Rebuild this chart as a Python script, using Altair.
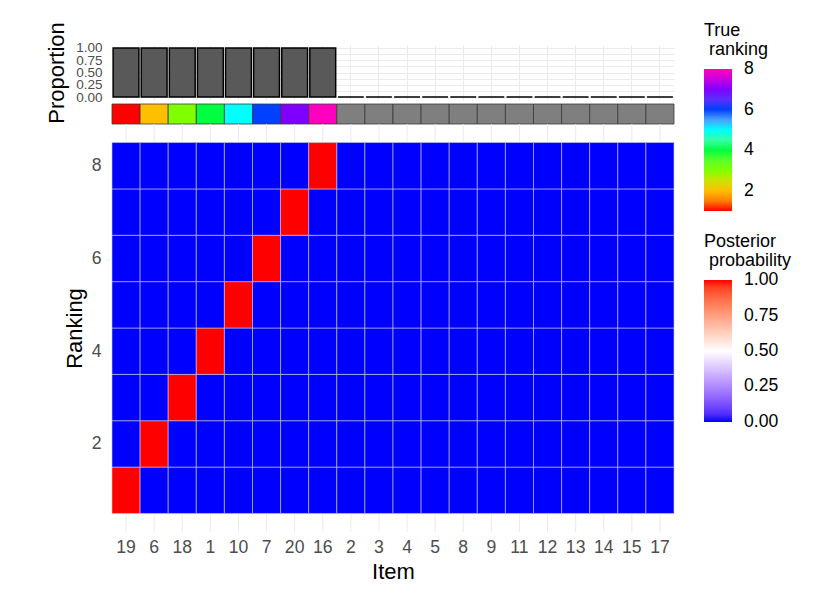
import altair as alt
import pandas as pd

# ---- data ----
items = ["19", "6", "18", "1", "10", "7", "20", "16", "2", "3",
         "4", "5", "8", "9", "11", "12", "13", "14", "15", "17"]
proportion = [1, 1, 1, 1, 1, 1, 1, 1, 0, 0, 0, 0, 0, 0, 0, 0, 0, 0, 0, 0]
true_ranking = [1, 2, 3, 4, 5, 6, 7, 8, None, None, None, None, None, None,
                None, None, None, None, None, None]
rankings = [1, 2, 3, 4, 5, 6, 7, 8]
# posterior probability: one row per ranking (1..8), columns follow `items`
posterior = [
    [1, 0, 0, 0, 0, 0, 0, 0, 0, 0, 0, 0, 0, 0, 0, 0, 0, 0, 0, 0],
    [0, 1, 0, 0, 0, 0, 0, 0, 0, 0, 0, 0, 0, 0, 0, 0, 0, 0, 0, 0],
    [0, 0, 1, 0, 0, 0, 0, 0, 0, 0, 0, 0, 0, 0, 0, 0, 0, 0, 0, 0],
    [0, 0, 0, 1, 0, 0, 0, 0, 0, 0, 0, 0, 0, 0, 0, 0, 0, 0, 0, 0],
    [0, 0, 0, 0, 1, 0, 0, 0, 0, 0, 0, 0, 0, 0, 0, 0, 0, 0, 0, 0],
    [0, 0, 0, 0, 0, 1, 0, 0, 0, 0, 0, 0, 0, 0, 0, 0, 0, 0, 0, 0],
    [0, 0, 0, 0, 0, 0, 1, 0, 0, 0, 0, 0, 0, 0, 0, 0, 0, 0, 0, 0],
    [0, 0, 0, 0, 0, 0, 0, 1, 0, 0, 0, 0, 0, 0, 0, 0, 0, 0, 0, 0],
]
rank_colors = ["#FF0000", "#FFBF00", "#80FF00", "#00FF40",
               "#00FFFF", "#0040FF", "#8000FF", "#FF00BF"]
prob_colors = ["#0000FF", "#FFFFFF", "#FF0000"]
prop_ticks = [0, 0.125, 0.25, 0.375, 0.5, 0.625, 0.75, 0.875, 1]
ranking_ticks = [2, 4, 6, 8]
# colour-scale domains (ends nudged a hair so the end labels sit centred on the bar ends)
rank_domain = [1, 2, 3, 4, 5, 6, 7, 8.001]
prob_domain = [-0.0001, 0.5, 1.0001]
heat_y_domain = [0.1, 8.9]

# ---- tables ----
bar_df = pd.DataFrame({"Item": items, "Proportion": proportion})
strip_df = pd.DataFrame({"Item": items, "rank": true_ranking})
ranked_df = strip_df[strip_df["rank"].notna()].copy()
unranked_df = strip_df[strip_df["rank"].isna()][["Item"]].copy()
item_df = pd.DataFrame({"Item": items})
heat_rows = []
for r, row in zip(rankings, posterior):
    for it, v in zip(items, row):
        heat_rows.append({"Item": it, "Ranking": r, "prob": v})
heat_df = pd.DataFrame(heat_rows)

W = 562
FONT = "Liberation Sans"
GRID = "#EBEBEB"
INDENT = "\u200b\u00a0"  # keeps the one-space indent of the second title line

# ---- top panel: proportion bars ----
bars = alt.Chart(bar_df).mark_bar(
    fill="#595959", stroke="#000000", strokeWidth=1.5
).encode(
    x=alt.X("Item:N", sort=items,
            scale=alt.Scale(domain=items, paddingInner=0.08, paddingOuter=0.04),
            axis=alt.Axis(labels=False, ticks=False, domain=False, title=None,
                          grid=True, gridColor=GRID, bandPosition=0.5)),
    y=alt.Y("Proportion:Q",
            scale=alt.Scale(domain=[-0.06, 1.06], nice=False, zero=False),
            axis=alt.Axis(values=prop_ticks, title="Proportion",
                          labelExpr="datum.value % 0.25 == 0 ? format(datum.value, '.2f') : ''",
                          labelFontSize=13.5, labelColor="#4D4D4D", labelPadding=10,
                          labelOverlap=False,
                          ticks=False, domain=False, grid=True, gridColor=GRID,
                          titleFontSize=22, titleFontWeight="normal",
                          titleColor="#000000", titlePadding=7)),
    y2=alt.Y2Datum(0),
).properties(width=W, height=55)

# ---- middle panel: true ranking colour strip ----
strip_x = alt.X("Item:N", sort=items,
                scale=alt.Scale(domain=items, paddingInner=0, paddingOuter=0),
                axis=None)
strip_y = alt.YDatum(0, scale=alt.Scale(domain=[0, 1.2], nice=False, zero=False), axis=None)
strip_ranked = alt.Chart(ranked_df).mark_rect(stroke="#3A3A3A", strokeWidth=0.8).encode(
    x=strip_x, y=strip_y, y2=alt.Y2Datum(1),
    color=alt.Color("rank:Q",
                    scale=alt.Scale(domain=rank_domain, range=rank_colors, interpolate="lab"),
                    legend=alt.Legend(title=["True", INDENT + "ranking"], orient="none",
                                      legendX=592, legendY=-78,
                                      values=[2, 4, 6, 8], direction="vertical",
                                      gradientLength=142, gradientThickness=28,
                                      gradientStrokeWidth=0, labelBaseline="middle",
                                      labelFontSize=17.6, labelColor="#000000",
                                      labelOffset=12, titleFontSize=18,
                                      titleFontWeight="normal", titleColor="#000000",
                                      titleLineHeight=19, titlePadding=10)),
)
strip_gray = alt.Chart(unranked_df).mark_rect(
    fill="#7F7F7F", stroke="#3A3A3A", strokeWidth=0.8
).encode(x=strip_x, y=strip_y, y2=alt.Y2Datum(1))
strip = alt.layer(strip_ranked, strip_gray).properties(width=W, height=24)

# ---- bottom panel: posterior heatmap ----
heat_x_scale = alt.Scale(domain=items, paddingInner=0, paddingOuter=0)
heat_y_scale = alt.Scale(domain=heat_y_domain, nice=False, zero=False)
heat_x_axis = alt.Axis(title="Item", grid=False,
                       ticks=False, domain=False, labelAngle=0,
                       labelFontSize=17.6, labelColor="#4D4D4D",
                       labelBaseline="middle", labelPadding=15,
                       titleFontSize=22, titleFontWeight="normal",
                       titleColor="#000000", titlePadding=6)
heat_y_axis = alt.Axis(title="Ranking", values=ranking_ticks, grid=False,
                       ticks=False, domain=False,
                       labelFontSize=17.6, labelColor="#4D4D4D", labelPadding=11,
                       titleFontSize=22, titleFontWeight="normal",
                       titleColor="#000000", titlePadding=5)

# panel grid lines (behind the tiles, visible only in the panel margins)
heat_grid = alt.Chart(item_df).mark_rule(color=GRID, strokeWidth=1).encode(
    x=alt.X("Item:N", sort=items, scale=heat_x_scale, axis=heat_x_axis),
    y=alt.YDatum(heat_y_domain[0], scale=heat_y_scale, axis=heat_y_axis),
    y2=alt.Y2Datum(heat_y_domain[1]),
)

heat_tiles = alt.Chart(heat_df).transform_calculate(
    lo="datum.Ranking - 0.5", hi="datum.Ranking + 0.5"
).mark_rect(stroke="#C9C9D6", strokeWidth=0.6).encode(
    x=alt.X("Item:N", sort=items, scale=heat_x_scale, axis=heat_x_axis),
    y=alt.Y("lo:Q", scale=heat_y_scale, axis=heat_y_axis),
    y2="hi:Q",
    color=alt.Color("prob:Q",
                    scale=alt.Scale(domain=prob_domain, range=prob_colors, interpolate="lab"),
                    legend=alt.Legend(title=["Posterior", INDENT + "probability"], orient="none",
                                      legendX=592, legendY=109,
                                      values=[0, 0.25, 0.5, 0.75, 1], format=".2f",
                                      direction="vertical",
                                      gradientLength=142, gradientThickness=28,
                                      gradientStrokeWidth=0, labelBaseline="middle",
                                      labelFontSize=17.6, labelColor="#000000",
                                      labelOffset=12, titleFontSize=18,
                                      titleFontWeight="normal", titleColor="#000000",
                                      titleLineHeight=19, titlePadding=10)),
)
heat = alt.layer(heat_grid, heat_tiles).properties(width=W, height=408)

chart = alt.vconcat(bars, strip, heat, spacing=0, bounds="flush").resolve_scale(
    color="independent", x="independent", y="independent"
).properties(
    padding={"left": 37, "top": 13, "right": 5, "bottom": 5}
).configure(font=FONT).configure_view(stroke=None)

chart.save("out.html", embed_options={"renderer": "svg", "actions": False})
